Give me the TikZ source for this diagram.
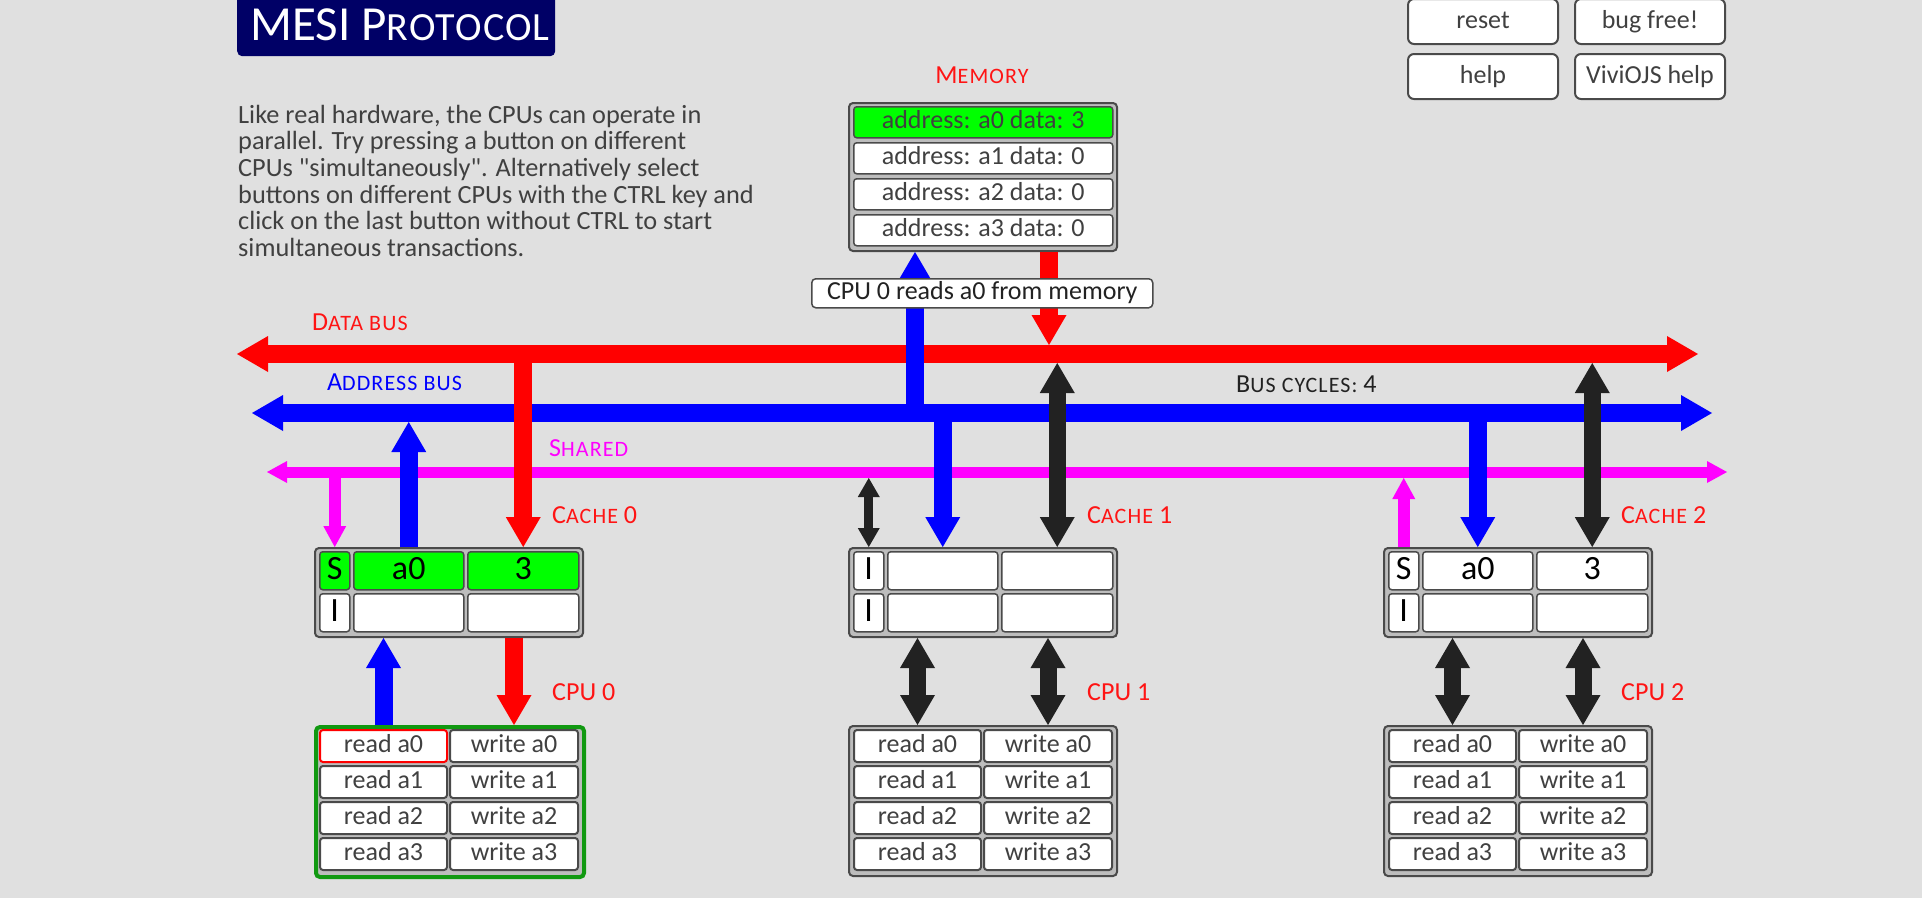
\documentclass[tikz,border=0pt]{standalone}
\usepackage{fontspec}
\setmainfont{Carlito}[Ligatures=TeXOff]
\usetikzlibrary{arrows.meta}
\definecolor{bg}{HTML}{E0E0E0}
\definecolor{navy}{HTML}{000066}
\definecolor{busred}{HTML}{FF0000}
\definecolor{busblue}{HTML}{0000FF}
\definecolor{busmag}{HTML}{FF00FF}
\definecolor{arrblack}{HTML}{222222}
\definecolor{hitgreen}{HTML}{00FF00}
\definecolor{boxgray}{HTML}{BDBDBD}
\definecolor{edgegray}{HTML}{4A4A4A}
\definecolor{cpugreen}{HTML}{119911}
\definecolor{txtgray}{HTML}{404040}
\definecolor{lblred}{HTML}{FF1414}

\newcommand\bodyfont{\fontsize{26}{26}\selectfont}
\newcommand\parafont{\fontsize{26.3}{26.3}\selectfont}
\newcommand\smfont{\fontsize{22}{22}\selectfont\addfontfeature{LetterSpace=5}}
\newcommand\fsc[2]{#1{\smfont #2}}

\tikzset{
  HeadBig/.tip={Triangle[length=30pt,width=35pt,line width=0pt]},
  HeadBus/.tip={Triangle[length=31pt,width=36pt,line width=0pt]},
  HeadMid/.tip={Triangle[length=21pt,width=23pt,line width=0pt]},
  HeadShared/.tip={Triangle[length=20pt,width=22pt,line width=0pt]},
  HeadSmall/.tip={Triangle[length=19pt,width=22pt,line width=0pt]},
  dbusline/.style={draw=busred,line width=18pt,HeadBus-HeadBus},
  abusline/.style={draw=busblue,line width=18pt,HeadBus-HeadBus},
  sbusline/.style={draw=busmag,line width=11pt,HeadShared-HeadShared},
  redarrow/.style={draw=busred,fill=busred,line width=18pt},
  bluearrow/.style={draw=busblue,fill=busblue,line width=18pt},
  magarrow/.style={draw=busmag,fill=busmag,line width=12pt},
  blackarrow/.style={draw=arrblack,fill=arrblack,line width=17pt},
  blackthin/.style={draw=arrblack,fill=arrblack,line width=9pt},
  outerbox/.style={draw=edgegray,fill=boxgray,line width=2pt,rounded corners=4pt,
    anchor=north west,inner sep=0pt,minimum width=268pt},
  cachecell/.style={draw=edgegray,fill=white,line width=1.5pt,rounded corners=3pt,
    anchor=north west,inner sep=0pt,minimum height=38pt,
    font=\fontsize{34}{34}\selectfont,text height=25.5pt,text depth=8.5pt},
  memcell/.style={draw=edgegray,fill=white,line width=1.5pt,rounded corners=3pt,
    anchor=north west,inner sep=0pt,minimum height=31pt,minimum width=259pt,
    font=\bodyfont,text=txtgray,text height=19.5pt,text depth=6.5pt},
  btn/.style={draw=edgegray,fill=white,line width=2pt,rounded corners=3pt,
    anchor=north west,inner sep=0pt,minimum height=32pt,
    font=\bodyfont,text=txtgray,text height=19.5pt,text depth=6.5pt},
  topbtn/.style={draw=edgegray,fill=white,line width=2pt,rounded corners=6pt,
    anchor=north west,inner sep=0pt,minimum height=45pt,minimum width=150pt,
    font=\bodyfont,text=txtgray,text height=19.5pt,text depth=6.5pt},
  redlabel/.style={anchor=base west,inner sep=0pt,text=lblred,font=\bodyfont},
  paraline/.style={anchor=base west,inner sep=0pt,text=txtgray,font=\parafont},
}

\begin{document}
\begin{tikzpicture}[x=1pt,y=-1pt]
\fill[bg] (0,0) rectangle (1922,898);
\useasboundingbox (0,0) rectangle (1922,898);

% title
\node[fill=navy,rounded corners=5pt,anchor=north west,inner sep=0pt,
  minimum width=318pt,minimum height=61pt] (titlebox) at (237,-5) {};
\node[anchor=base west,inner sep=0pt,text=white,font=\fontsize{49}{49}\selectfont]
  (title) at (250,40) {MESI P{\fontsize{40}{40}\selectfont\addfontfeature{LetterSpace=3}ROTOCOL}};

% paragraph
\node[paraline] (para1) at (238,123) {Like real hardware, the CPUs can operate in};
\node[paraline] (para2) at (238,149.7) {parallel. Try pressing a button on different};
\node[paraline] (para3) at (238,176.4) {CPUs "simultaneously". Alternatively select};
\node[paraline] (para4) at (238,203.1) {buttons on different CPUs with the CTRL key and};
\node[paraline] (para5) at (238,229.8) {click on the last button without CTRL to start};
\node[paraline] (para6) at (238,256.5) {simultaneous transactions.};

% top right buttons
\node[topbtn] (reset) at (1407,-2) {reset};
\node[topbtn] (bugfree) at (1574,-2) {bug free!};
\node[topbtn] (help) at (1407,53) {help};
\node[topbtn] (vhelp) at (1574,53) {ViviOJS help};

% memory
\node[redlabel,anchor=base] (memlbl) at (982,83) {\fsc{M}{EMORY}};
\node[outerbox,minimum height=148pt] (mem) at (848,102) {};
\node[memcell,fill=hitgreen] (m0) at (853,106) {address: a0 data: 3};
\node[memcell] (m1) at (853,142) {address: a1 data: 0};
\node[memcell] (m2) at (853,178) {address: a2 data: 0};
\node[memcell] (m3) at (853,214) {address: a3 data: 0};

% bus labels
\node[redlabel] (dblbl) at (312,330) {\fsc{D}{ATA BUS}};
\node[redlabel,text=busblue] (ablbl) at (327,390) {\fsc{A}{DDRESS BUS}};
\node[redlabel,text=busmag] (shlbl) at (549,456) {\fsc{S}{HARED}};
\node[redlabel,text=arrblack] (cyclbl) at (1236,392) {\fsc{B}{US CYCLES:} 4};

% caches
\node[outerbox,minimum height=89pt] (c0) at (314,547) {};
\node[cachecell,minimum width=30pt,fill=hitgreen] (c0s) at (319,551) {S};
\node[cachecell,minimum width=110pt,fill=hitgreen] (c0a) at (353,551) {a0};
\node[cachecell,minimum width=111pt,fill=hitgreen] (c0d) at (467,551) {3};
\node[cachecell,minimum width=30pt] (c0s2) at (319,593) {I};
\node[cachecell,minimum width=110pt] (c0a2) at (353,593) {};
\node[cachecell,minimum width=111pt] (c0d2) at (467,593) {};
\node[redlabel] (c0lbl) at (552,523) {\fsc{C}{ACHE} 0};

\node[outerbox,minimum height=89pt] (c1) at (848,547) {};
\node[cachecell,minimum width=30pt] (c1s) at (853,551) {I};
\node[cachecell,minimum width=110pt] (c1a) at (887,551) {};
\node[cachecell,minimum width=111pt] (c1d) at (1001,551) {};
\node[cachecell,minimum width=30pt] (c1s2) at (853,593) {I};
\node[cachecell,minimum width=110pt] (c1a2) at (887,593) {};
\node[cachecell,minimum width=111pt] (c1d2) at (1001,593) {};
\node[redlabel] (c1lbl) at (1087,523) {\fsc{C}{ACHE} 1};

\node[outerbox,minimum height=89pt] (c2) at (1383,547) {};
\node[cachecell,minimum width=30pt] (c2s) at (1388,551) {S};
\node[cachecell,minimum width=110pt] (c2a) at (1422,551) {a0};
\node[cachecell,minimum width=111pt] (c2d) at (1536,551) {3};
\node[cachecell,minimum width=30pt] (c2s2) at (1388,593) {I};
\node[cachecell,minimum width=110pt] (c2a2) at (1422,593) {};
\node[cachecell,minimum width=111pt] (c2d2) at (1536,593) {};
\node[redlabel] (c2lbl) at (1621,523) {\fsc{C}{ACHE} 2};

% CPUs
\node[outerbox,minimum height=150pt,draw=cpugreen,line width=4pt] (p0) at (314,725) {};
\node[btn,minimum width=127pt,draw=busred] (p0l0) at (319,729) {read a0};
\node[btn,minimum width=128pt] (p0r0) at (449,729) {write a0};
\node[btn,minimum width=127pt] (p0l1) at (319,765) {read a1};
\node[btn,minimum width=128pt] (p0r1) at (449,765) {write a1};
\node[btn,minimum width=127pt] (p0l2) at (319,801) {read a2};
\node[btn,minimum width=128pt] (p0r2) at (449,801) {write a2};
\node[btn,minimum width=127pt] (p0l3) at (319,837) {read a3};
\node[btn,minimum width=128pt] (p0r3) at (449,837) {write a3};
\node[redlabel] (p0lbl) at (552,700) {CPU 0};

\node[outerbox,minimum height=150pt] (p1) at (848,725) {};
\node[btn,minimum width=127pt] (p1l0) at (853,729) {read a0};
\node[btn,minimum width=128pt] (p1r0) at (983,729) {write a0};
\node[btn,minimum width=127pt] (p1l1) at (853,765) {read a1};
\node[btn,minimum width=128pt] (p1r1) at (983,765) {write a1};
\node[btn,minimum width=127pt] (p1l2) at (853,801) {read a2};
\node[btn,minimum width=128pt] (p1r2) at (983,801) {write a2};
\node[btn,minimum width=127pt] (p1l3) at (853,837) {read a3};
\node[btn,minimum width=128pt] (p1r3) at (983,837) {write a3};
\node[redlabel] (p1lbl) at (1087,700) {CPU 1};

\node[outerbox,minimum height=150pt] (p2) at (1383,725) {};
\node[btn,minimum width=127pt] (p2l0) at (1388,729) {read a0};
\node[btn,minimum width=128pt] (p2r0) at (1518,729) {write a0};
\node[btn,minimum width=127pt] (p2l1) at (1388,765) {read a1};
\node[btn,minimum width=128pt] (p2r1) at (1518,765) {write a1};
\node[btn,minimum width=127pt] (p2l2) at (1388,801) {read a2};
\node[btn,minimum width=128pt] (p2r2) at (1518,801) {write a2};
\node[btn,minimum width=127pt] (p2l3) at (1388,837) {read a3};
\node[btn,minimum width=128pt] (p2r3) at (1518,837) {write a3};
\node[redlabel] (p2lbl) at (1621,700) {CPU 2};

% buses
\coordinate (dbL) at (237,354);
\coordinate (dbR) at (1698,354);
\coordinate (abL) at (252,413);
\coordinate (abR) at (1712,413);
\coordinate (shL) at (267,472);
\coordinate (shR) at (1727,472);
\coordinate (dbTop) at (0,345);
\coordinate (dbBot) at (0,363);
\coordinate (abBot) at (0,422);
\coordinate (shBot) at (0,478);
\draw[dbusline] (dbL) -- (dbR);
\draw[abusline] (abL) -- (abR);
\draw[sbusline] (shL) -- (shR);

% memory arrows
\coordinate (memA) at ([xshift=67pt]mem.south west);
\coordinate (memD) at ([xshift=201pt]mem.south west);
\draw[bluearrow,-HeadBig] (memA |- abL) -- (memA);
\draw[redarrow,-HeadBig] (memD) -- (memD |- dbTop);

% cache 0 arrows
\draw[magarrow,-HeadMid] (c0s |- shL) -- (c0s |- c0.north);
\draw[bluearrow,-HeadBig] (c0a |- c0.north) -- (c0a |- abBot);
\draw[redarrow,-HeadBig] (c0d |- dbL) -- (c0d |- c0.north);
% cache 1 arrows
\draw[blackthin,HeadSmall-HeadSmall] (c1s |- shBot) -- (c1s |- c1.north);
\draw[bluearrow,-HeadBig] (c1a |- abL) -- (c1a |- c1.north);
\draw[blackarrow,HeadBig-HeadBig] (c1d |- dbBot) -- (c1d |- c1.north);
% cache 2 arrows
\draw[magarrow,-HeadMid] (c2s |- c2.north) -- (c2s |- shBot);
\draw[bluearrow,-HeadBig] (c2a |- abL) -- (c2a |- c2.north);
\draw[blackarrow,HeadBig-HeadBig] (c2d |- dbBot) -- (c2d |- c2.north);

% cpu arrows
\draw[bluearrow,-HeadBig] (p0l0 |- p0.north) -- (p0l0 |- c0.south);
\draw[redarrow,-HeadBig] (p0r0 |- c0.south) -- (p0r0 |- p0.north);
\draw[blackarrow,HeadBig-HeadBig] (p1l0 |- c1.south) -- (p1l0 |- p1.north);
\draw[blackarrow,HeadBig-HeadBig] (p1r0 |- c1.south) -- (p1r0 |- p1.north);
\draw[blackarrow,HeadBig-HeadBig] (p2l0 |- c2.south) -- (p2l0 |- p2.north);
\draw[blackarrow,HeadBig-HeadBig] (p2r0 |- c2.south) -- (p2r0 |- p2.north);

% status label
\node[draw=edgegray,fill=white,line width=1.5pt,rounded corners=4pt,anchor=north west,
  inner sep=0pt,minimum width=341pt,minimum height=29pt,font=\bodyfont,text=arrblack,
  text height=19.5pt,text depth=6.5pt] (status) at (811,278) {CPU 0 reads a0 from memory};
\end{tikzpicture}
\end{document}
